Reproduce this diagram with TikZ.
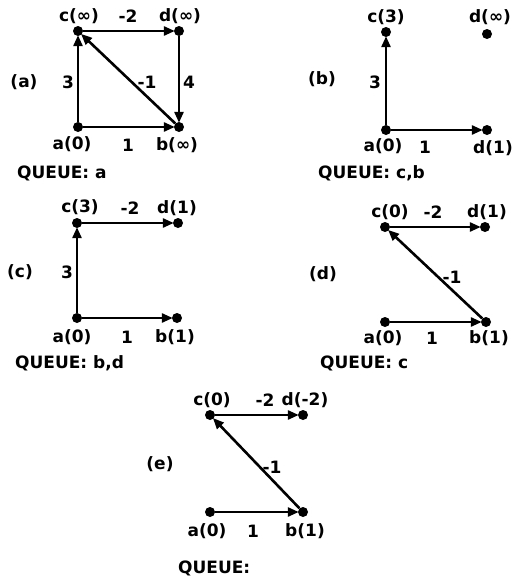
\documentclass[tikz,border=0pt]{standalone}
\usepackage{fontspec}
\setmainfont{DejaVu Sans}
\usetikzlibrary{arrows.meta}
\tikzset{
  vtx/.style={circle,fill=black,inner sep=0pt,minimum size=10pt},
  arc/.style={line width=2.6pt,-{Triangle[length=11pt,width=9pt]},shorten >=-1pt},
  lbl/.style={inner sep=0pt,font=\fontsize{17}{19}\selectfont\bfseries},
}
\begin{document}
\begin{tikzpicture}[x=1pt,y=-1pt]
\useasboundingbox (0,0) rectangle (514,581);

% ---------- (a) ----------
\node[vtx] (aA) at (78,127) {};
\node[vtx] (aB) at (179,127) {};
\node[vtx] (aC) at (78,31) {};
\node[vtx] (aD) at (179,31) {};
\draw[arc] (aA) -- (aC);
\draw[arc] (aC) -- (aD);
\draw[arc] (aD) -- (aB);
\draw[arc] (aA) -- (aB);
\draw[arc] (aB) -- (aC);
\node[lbl] (aLc) at (79,16) {c(∞)};
\node[lbl] (aLm2) at (128,16) {-2};
\node[lbl] (aLd) at (180,16) {d(∞)};
\node[lbl] (aTag) at (24,82) {(a)};
\node[lbl] (aL3) at (68,82) {3};
\node[lbl] (aLm1) at (147,82) {-1};
\node[lbl] (aL4) at (189,82) {4};
\node[lbl] (aLa) at (72,144) {a(0)};
\node[lbl] (aL1) at (128,145) {1};
\node[lbl] (aLb) at (177,145) {b(∞)};
\node[lbl,anchor=west] (aQ) at (17,173) {QUEUE: a};

% ---------- (b) ----------
\node[vtx] (bA) at (386,130) {};
\node[vtx] (bB) at (487,130) {};
\node[vtx] (bC) at (386,32) {};
\node[vtx] (bD) at (487,34) {};
\draw[arc] (bA) -- (bC);
\draw[arc] (bA) -- (bB);
\node[lbl] (bLc) at (386,17) {c(3)};
\node[lbl] (bLd) at (490,17) {d(∞)};
\node[lbl] (bTag) at (322,79) {(b)};
\node[lbl] (bL3) at (375,82) {3};
\node[lbl] (bLa) at (383,146) {a(0)};
\node[lbl] (bL1) at (425,147) {1};
\node[lbl] (bLb) at (493,148) {d(1)};
\node[lbl,anchor=west] (bQ) at (318,173) {QUEUE: c,b};

% ---------- (c) ----------
\node[vtx] (cA) at (77,318) {};
\node[vtx] (cB) at (177,318) {};
\node[vtx] (cC) at (77,223) {};
\node[vtx] (cD) at (178,223) {};
\draw[arc] (cA) -- (cC);
\draw[arc] (cC) -- (cD);
\draw[arc] (cA) -- (cB);
\node[lbl] (cLc) at (80,207) {c(3)};
\node[lbl] (cLm2) at (130,208) {-2};
\node[lbl] (cLd) at (177,208) {d(1)};
\node[lbl] (cTag) at (20,272) {(c)};
\node[lbl] (cL3) at (67,272) {3};
\node[lbl] (cLa) at (72,337) {a(0)};
\node[lbl] (cL1) at (127,337) {1};
\node[lbl] (cLb) at (175,337) {b(1)};
\node[lbl,anchor=west] (cQ) at (15,363) {QUEUE: b,d};

% ---------- (d) ----------
\node[vtx] (dA) at (385,322) {};
\node[vtx] (dB) at (486,322) {};
\node[vtx] (dC) at (385,227) {};
\node[vtx] (dD) at (485,227) {};
\draw[arc] (dA) -- (dB);
\draw[arc] (dB) -- (dC);
\draw[arc] (dC) -- (dD);
\node[lbl] (dLc) at (390,212) {c(0)};
\node[lbl] (dLm2) at (433,212) {-2};
\node[lbl] (dLd) at (487,212) {d(1)};
\node[lbl] (dTag) at (323,274) {(d)};
\node[lbl] (dLm1) at (452,277) {-1};
\node[lbl] (dLa) at (383,338) {a(0)};
\node[lbl] (dL1) at (432,338) {1};
\node[lbl] (dLb) at (489,338) {b(1)};
\node[lbl,anchor=west] (dQ) at (320,363) {QUEUE: c};

% ---------- (e) ----------
\node[vtx] (eA) at (210,512) {};
\node[vtx] (eB) at (303,512) {};
\node[vtx] (eC) at (210,415) {};
\node[vtx] (eD) at (303,415) {};
\draw[arc] (eA) -- (eB);
\draw[arc] (eB) -- (eC);
\draw[arc] (eC) -- (eD);
\node[lbl] (eLc) at (212,400) {c(0)};
\node[lbl] (eLm2) at (265,400) {-2};
\node[lbl] (eLd) at (305,400) {d(-2)};
\node[lbl] (eTag) at (160,464) {(e)};
\node[lbl] (eLm1) at (272,467) {-1};
\node[lbl] (eLa) at (207,531) {a(0)};
\node[lbl] (eL1) at (253,531) {1};
\node[lbl] (eLb) at (305,531) {b(1)};
\node[lbl,anchor=west] (eQ) at (178,568) {QUEUE:};
\end{tikzpicture}
\end{document}
